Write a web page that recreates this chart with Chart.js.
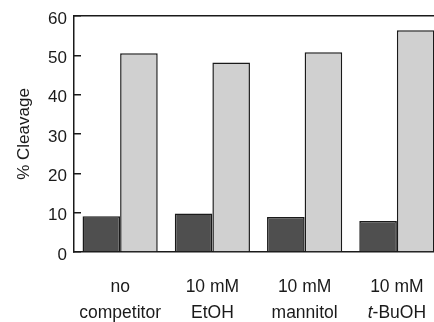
<!DOCTYPE html>
<html lang="en">
<head>
  <meta charset="UTF-8" />
  <title>% Cleavage</title>
  <script src="https://cdn.jsdelivr.net/npm/chart.js"></script>
  <style>
    html, body { margin: 0; padding: 0; overflow: hidden; background: #fff; }
    canvas { display: block; }
  </style>
</head>
<body>
  <canvas id="cleavageChart" width="443" height="322"></canvas>

  <script>
    const categories = [
      ['no', 'competitor'],
      ['10 mM', 'EtOH'],
      ['10 mM', 'mannitol'],
      ['10 mM', 't-BuOH']
    ];
    const darkValues = [9.1, 9.8, 8.9, 7.9];
    const lightValues = [50.5, 48.2, 50.8, 56.4];
    const yTicks = [0, 10, 20, 30, 40, 50, 60];

    const ink = '#1a1a1a';
    const family = "'Liberation Sans', Arial, sans-serif";
    const font = { family: family, size: 17 };

    // keep the plot box exactly where the reference has it
    const noPad = s => { s.paddingLeft = 0; s.paddingRight = 0; s.paddingTop = 0; s.paddingBottom = 0; };

    // category labels drawn by hand so the "t" of t-BuOH can be italic
    const categoryLabels = {
      id: 'categoryLabels',
      afterDraw(chart) {
        const x = chart.scales.x;
        const ctx = chart.ctx;
        const size = 17.5;
        const normal = `${size}px ${family}`;
        const italic = `italic ${size}px ${family}`;
        ctx.save();
        ctx.fillStyle = ink;
        ctx.textBaseline = 'middle';
        ctx.textAlign = 'left';
        categories.forEach((lines, i) => {
          const cx = x.getPixelForTick(i);
          lines.forEach((line, j) => {
            const y = x.top + 35 + j * 26;
            let parts = [[normal, line]];
            if (line.startsWith('t-')) parts = [[italic, 't'], [normal, line.slice(1)]];
            let w = 0;
            parts.forEach(([f, t]) => { ctx.font = f; w += ctx.measureText(t).width; });
            let px = cx - w / 2;
            parts.forEach(([f, t]) => {
              ctx.font = f;
              ctx.fillText(t, px, y);
              px += ctx.measureText(t).width;
            });
          });
        });
        ctx.restore();
      }
    };

    new Chart(document.getElementById('cleavageChart'), {
      type: 'bar',
      data: {
        labels: categories,
        datasets: [
          {
            label: 'dark',
            data: darkValues,
            backgroundColor: '#4f4f4f',
            borderColor: ink,
            borderWidth: 1.5
          },
          {
            label: 'light',
            data: lightValues,
            backgroundColor: '#d0d0d0',
            borderColor: ink,
            borderWidth: 1.5
          }
        ]
      },
      options: {
        responsive: false,
        animation: false,
        layout: { padding: 0 },
        categoryPercentage: 0.815,
        barPercentage: 1.0,
        plugins: {
          legend: { display: false },
          tooltip: { enabled: false }
        },
        scales: {
          x: {
            grid: { display: false, drawTicks: false },
            border: { display: true, color: ink, width: 1.5 },
            ticks: { display: false },
            afterFit: s => { s.height = 70; noPad(s); }
          },
          top: {
            position: 'top',
            grid: { display: false, drawTicks: false },
            border: { display: true, color: ink, width: 1.5 },
            ticks: { display: false },
            afterFit: s => { s.height = 16; noPad(s); }
          },
          y: {
            min: 0,
            max: 60,
            afterBuildTicks: s => { s.ticks = yTicks.map(v => ({ value: v })); },
            grid: { drawOnChartArea: false, drawTicks: true, tickLength: -7, color: ink, lineWidth: 1.5 },
            border: { display: true, color: ink, width: 1.5 },
            ticks: { color: ink, font: font, padding: 14, labelOffset: 3 },
            title: { display: true, text: '% Cleavage', color: ink, font: font, padding: { top: 14, bottom: 0 } },
            afterFit: s => { s.width = 74; noPad(s); }
          }
        }
      },
      plugins: [categoryLabels]
    });
  </script>
</body>
</html>
